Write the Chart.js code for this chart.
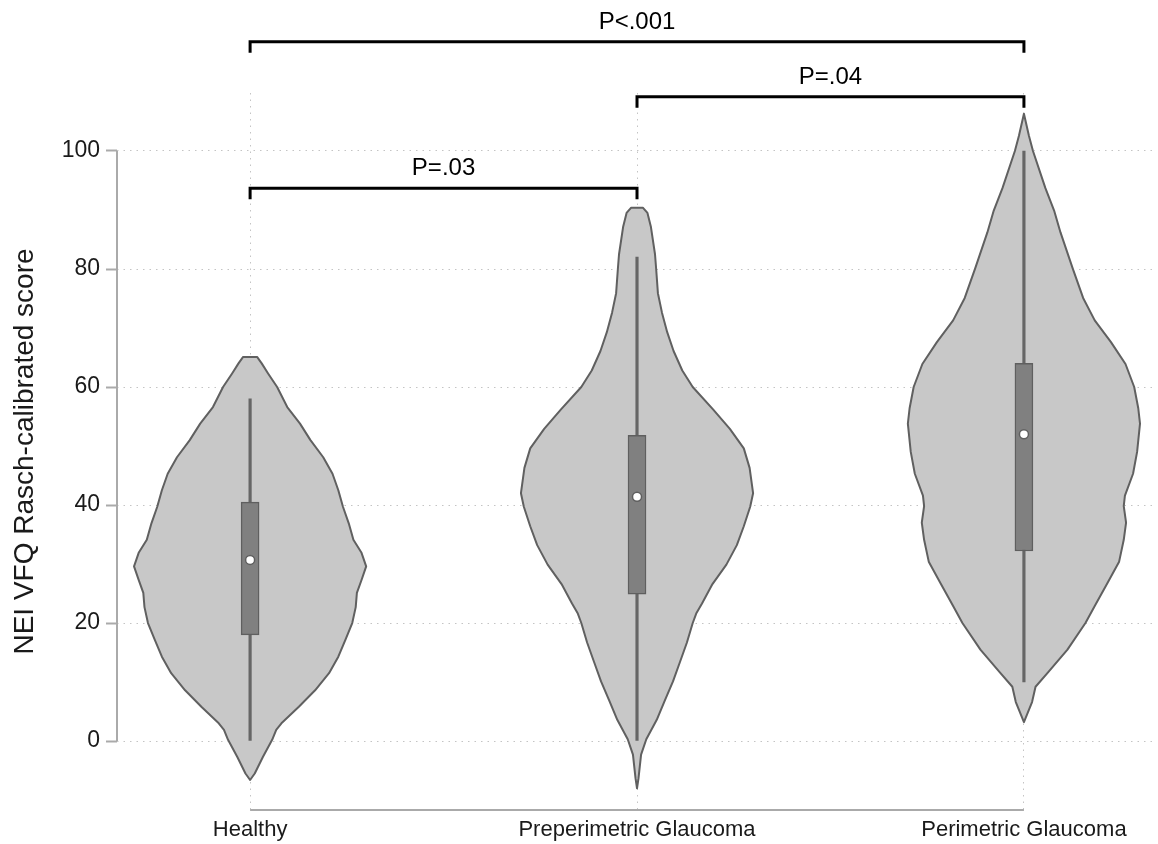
<!DOCTYPE html>
<html>
<head>
<meta charset="utf-8">
<script src="https://cdn.jsdelivr.net/npm/chart.js@4.4.1/dist/chart.umd.min.js"></script>
<style>
  body { margin: 0; background: #fff; }
  canvas { display: block; }
</style>
</head>
<body>
<canvas id="violinChart" width="1158" height="844"></canvas>
<script>
var categories = ['Healthy', 'Preperimetric Glaucoma', 'Perimetric Glaucoma'];
var yTicks = [0, 20, 40, 60, 80, 100];

// box plot summary per group
var q1 = [18, 24.9, 32.2];
var q3 = [40.5, 51.8, 64];
var medians = [30.7, 41.4, 52];
var whiskerLow = [0, 0, 10];
var whiskerHigh = [58, 82, 100];

// violin outlines: [score, relative half width]
var densityHealthy = [
    [65.1, 0.06], [64, 0.1], [62.3, 0.155], [60, 0.233], [56.6, 0.32], [53.8, 0.43],
    [51, 0.52], [48.1, 0.63], [45.3, 0.71], [42.5, 0.76], [39.7, 0.8], [36.9, 0.85],
    [34.1, 0.89], [31.9, 0.96], [29.6, 1.0], [27.3, 0.96], [25.1, 0.92], [22.7, 0.91],
    [20, 0.88], [17.1, 0.82], [14.3, 0.76], [11.5, 0.68], [8.6, 0.56], [5.8, 0.42],
    [3, 0.27], [1.9, 0.225], [0.2, 0.19], [-2.7, 0.11], [-5.5, 0.04], [-6.6, 0]
];
var densityPreperimetric = [
    [90.4, 0.05], [89.5, 0.09], [87.1, 0.12], [82.5, 0.155], [80, 0.165], [75.9, 0.18],
    [72.6, 0.215], [69.3, 0.26], [66.1, 0.315], [62.8, 0.39], [60, 0.48], [56.2, 0.655],
    [52.9, 0.8], [49.6, 0.92], [46.3, 0.97], [42, 1.0], [39.7, 0.975], [36.4, 0.92],
    [33.2, 0.86], [29.9, 0.77], [26.6, 0.65], [23.3, 0.56], [21.6, 0.51], [20, 0.48],
    [16.7, 0.43], [13.4, 0.37], [10.1, 0.31], [6.9, 0.24], [3.6, 0.17], [0.3, 0.08],
    [-2.3, 0.035], [-6.3, 0.013], [-8, 0]
];
var densityPerimetric = [
    [106.3, 0], [102.6, 0.043], [100, 0.078], [93.7, 0.185], [89.9, 0.26], [86.2, 0.315],
    [80.1, 0.42], [75.1, 0.51], [71.3, 0.61], [67.6, 0.75], [63.9, 0.875], [60, 0.95],
    [56.4, 0.985], [53.8, 1.0], [49, 0.975], [45.3, 0.94], [41.6, 0.87], [39.8, 0.86],
    [37, 0.88], [34.1, 0.86], [30.4, 0.82], [26.6, 0.715], [22.9, 0.61], [20, 0.53],
    [15.5, 0.375], [11.8, 0.215], [9.2, 0.1], [6.6, 0.07], [3.2, 0]
];
var densities = [densityHealthy, densityPreperimetric, densityPerimetric];

// pairwise comparisons
var pPairs = [[0, 2], [1, 2], [0, 1]];
var pLabels = ['P<.001', 'P=.04', 'P=.03'];

var FONT = '"Liberation Sans", Arial, sans-serif';

var violinPlugin = {
    id: 'violins',
    beforeDatasetsDraw: function (chart) {
        var ctx = chart.ctx, x = chart.scales.x, y = chart.scales.y;
        var half = 0.3;
        ctx.save();
        // trimmed axis lines
        ctx.strokeStyle = '#aaaaaa';
        ctx.lineWidth = 2;
        ctx.beginPath();
        ctx.moveTo(x.left, y.getPixelForValue(0));
        ctx.lineTo(x.left, y.getPixelForValue(100));
        ctx.moveTo(x.getPixelForValue(0), y.bottom);
        ctx.lineTo(x.getPixelForValue(categories.length - 1), y.bottom);
        ctx.stroke();

        densities.forEach(function (prof, i) {
            ctx.beginPath();
            prof.forEach(function (p, k) {
                var px = x.getPixelForValue(i + p[1] * half), py = y.getPixelForValue(p[0]);
                if (k === 0) ctx.moveTo(px, py); else ctx.lineTo(px, py);
            });
            for (var k = prof.length - 1; k >= 0; k--) {
                ctx.lineTo(x.getPixelForValue(i - prof[k][1] * half), y.getPixelForValue(prof[k][0]));
            }
            ctx.closePath();
            ctx.fillStyle = '#c8c8c8';
            ctx.fill();
            ctx.lineWidth = 2;
            ctx.lineJoin = 'round';
            ctx.strokeStyle = '#606060';
            ctx.stroke();
        });
        ctx.restore();
    }
};

var bracketPlugin = {
    id: 'brackets',
    afterDraw: function (chart, args, opts) {
        var ctx = chart.ctx, x = chart.scales.x, y = chart.scales.y;
        ctx.save();
        ctx.strokeStyle = '#000';
        ctx.fillStyle = '#000';
        ctx.lineWidth = 3;
        ctx.lineJoin = 'miter';
        ctx.font = '24px ' + FONT;
        ctx.textAlign = 'center';
        ctx.textBaseline = 'alphabetic';
        pPairs.forEach(function (pair, i) {
            var x1 = x.getPixelForValue(pair[0]), x2 = x.getPixelForValue(pair[1]);
            var yb = y.getPixelForValue(opts.levels[i]);
            ctx.beginPath();
            ctx.moveTo(x1, yb + 11);
            ctx.lineTo(x1, yb);
            ctx.lineTo(x2, yb);
            ctx.lineTo(x2, yb + 11);
            ctx.stroke();
            ctx.fillText(pLabels[i], (x1 + x2) / 2, yb - 13);
        });
        ctx.restore();
    }
};

var ctx = document.getElementById('violinChart').getContext('2d');
var myChart = new Chart(ctx, {
    type: 'bar',
    data: {
        datasets: [{
            label: 'whisker',
            data: categories.map(function (c, i) { return { x: i, y: [whiskerLow[i], whiskerHigh[i]] }; }),
            backgroundColor: '#666666',
            borderWidth: 0,
            barThickness: 2.5,
            grouped: false,
            order: 3
        }, {
            label: 'box',
            data: categories.map(function (c, i) { return { x: i, y: [q1[i], q3[i]] }; }),
            backgroundColor: '#808080',
            borderColor: '#5f5f5f',
            borderWidth: 1.5,
            borderSkipped: false,
            barThickness: 18,
            grouped: false,
            order: 2
        }, {
            type: 'line',
            label: 'median',
            data: categories.map(function (c, i) { return { x: i, y: medians[i] }; }),
            showLine: false,
            pointRadius: 4.5,
            pointBackgroundColor: '#ffffff',
            pointBorderColor: '#5f5f5f',
            pointBorderWidth: 1.5,
            order: 1
        }]
    },
    options: {
        responsive: false,
        animation: false,
        layout: { padding: { top: 93, right: 0, left: 0, bottom: 0 } },
        plugins: {
            legend: { display: false },
            tooltip: { enabled: false },
            brackets: { levels: [118.5, 109.2, 93.7] }
        },
        scales: {
            x: {
                type: 'linear',
                offset: false,
                min: -0.344,
                max: 2.331,
                afterBuildTicks: function (scale) {
                    scale.ticks = categories.map(function (c, i) { return { value: i }; });
                },
                afterFit: function (scale) { scale.height = 34; },
                ticks: {
                    callback: function (v) { return categories[v]; },
                    font: { size: 22, family: FONT },
                    color: '#1a1a1a',
                    padding: 7,
                    maxRotation: 0,
                    autoSkip: false
                },
                grid: {
                    offset: false,
                    color: '#c4c4c4',
                    lineWidth: 1,
                    drawTicks: false
                },
                border: { display: false, dash: [1.5, 5] }
            },
            y: {
                min: -11.69,
                max: 109.83,
                afterBuildTicks: function (scale) {
                    scale.ticks = yTicks.map(function (v) { return { value: v }; });
                },
                afterFit: function (scale) { scale.width = 117; },
                ticks: {
                    font: { size: 23, family: FONT },
                    color: '#1a1a1a',
                    padding: 6
                },
                grid: {
                    color: '#c4c4c4',
                    lineWidth: 1,
                    tickColor: '#aaaaaa',
                    tickLength: 11,
                    tickWidth: 2,
                    tickBorderDash: []
                },
                border: { display: false, dash: [1.5, 5] },
                title: {
                    display: true,
                    text: 'NEI VFQ Rasch-calibrated score',
                    font: { size: 28, family: FONT },
                    color: '#1a1a1a',
                    padding: { top: 8, bottom: 0 }
                }
            }
        }
    },
    plugins: [violinPlugin, bracketPlugin]
});
</script>
</body>
</html>
